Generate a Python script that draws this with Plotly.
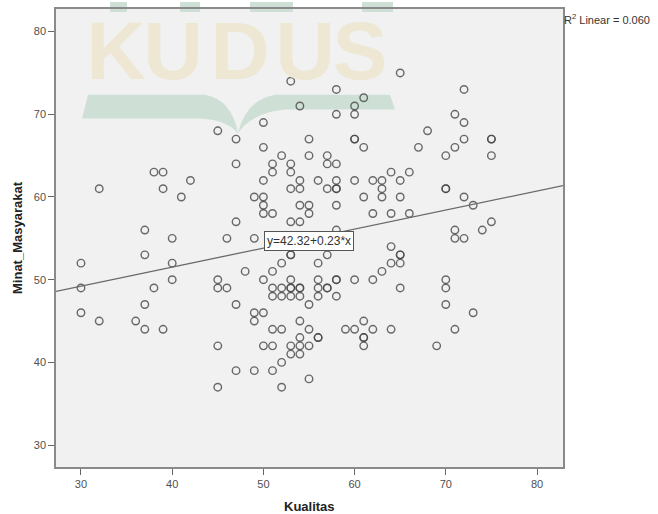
import plotly.graph_objects as go

# ---- data (Kualitas vs Minat_Masyarakat) ----
kualitas = (
    [30, 30, 30] + [32, 32] + [36] + [37, 37, 37, 37] + [38, 38] + [39, 39, 39] +
    [40, 40, 40] + [41] + [42] + [45, 45, 45, 45, 45] + [46, 46] +
    [47, 47, 47, 47, 47] + [48] + [49, 49, 49, 49, 49] +
    [50] * 9 + [51] * 9 + [52] * 7 + [53] * 14 + [54] * 12 + [55] * 8 +
    [56] * 7 + [57] * 6 + [58] * 11 + [59] + [60] * 7 + [61] * 7 + [62] * 4 +
    [63] * 4 + [64] * 5 + [65] * 7 + [66] * 2 + [67] + [68] + [69] +
    [70] * 6 + [71] * 5 + [72] * 5 + [73] * 2 + [74] + [75] * 4
)
minat = (
    [52, 49, 46] + [61, 45] + [45] + [56, 53, 47, 44] + [63, 49] + [63, 61, 44] +
    [55, 52, 50] + [60] + [62] + [68, 50, 49, 42, 37] + [55, 49] +
    [67, 64, 57, 47, 39] + [51] + [60, 55, 46, 45, 39] +
    [69, 66, 62, 60, 59, 58, 50, 46, 42] +
    [64, 63, 58, 51, 49, 48, 44, 42, 39] +
    [65, 52, 49, 48, 44, 40, 37] +
    [74, 64, 63, 61, 57, 54, 53, 53, 50, 49, 49, 48, 42, 41] +
    [71, 62, 61, 59, 57, 49, 49, 48, 45, 43, 42, 41] +
    [67, 65, 59, 58, 47, 44, 42, 38] +
    [62, 52, 50, 49, 48, 43, 43] +
    [65, 64, 61, 53, 49, 49] +
    [73, 70, 64, 62, 61, 61, 59, 56, 50, 50, 48] +
    [44] +
    [71, 70, 67, 67, 62, 50, 44] +
    [72, 66, 60, 45, 43, 43, 42] +
    [62, 58, 50, 44] +
    [62, 61, 60, 51] +
    [63, 58, 54, 52, 44] +
    [75, 62, 60, 53, 53, 52, 49] +
    [63, 58] + [66] + [68] + [42] +
    [65, 61, 61, 50, 49, 47] +
    [70, 66, 56, 55, 44] +
    [73, 69, 67, 60, 55] +
    [59, 46] + [56] + [67, 67, 65, 57]
)
intercept = 42.32
slope = 0.23
r2_linear = 0.060
x_ticks = [30, 40, 50, 60, 70, 80]
y_ticks = [30, 40, 50, 60, 70, 80]
x_range = [27.26, 82.85]
y_range = [27.35, 82.73]
x_title = "Kualitas"
y_title = "Minat_Masyarakat"
watermark_letters = ["K", "U", "D", "U", "S"]

FONT = "Liberation Sans, Arial, sans-serif"

# canvas geometry (pixels) for the watermark decoration
W, H = 658, 514
ML, MR, MT, MB = 56, 95, 7, 47
PW, PH = W - ML - MR, H - MT - MB


def px(x):
    return (x - ML) / PW


def py(y):
    return (H - MB - y) / PH


fig = go.Figure()

# watermark letters (drawn first so the markers sit on top)
letter_px = [116, 173, 240, 305, 360]
fig.add_trace(go.Scatter(
    x=[px(v) for v in letter_px], y=[py(57)] * len(letter_px),
    xaxis="x2", yaxis="y2", mode="text", text=watermark_letters,
    textfont=dict(family=FONT, size=82, color="rgb(237,231,211)", weight="bold"),
    hoverinfo="skip", showlegend=False, cliponaxis=False,
))

# scatter points
fig.add_trace(go.Scatter(
    x=kualitas, y=minat, mode="markers",
    marker=dict(symbol="circle-open", size=7.5,
                color="rgba(70,70,70,0.8)", line=dict(width=1.4)),
    showlegend=False, hoverinfo="x+y",
))

# fit line across the whole axis range
fig.add_trace(go.Scatter(
    x=x_range, y=[intercept + slope * v for v in x_range], mode="lines",
    line=dict(color="#6a6a6a", width=1.3), showlegend=False, hoverinfo="skip",
))

# book-shaped watermark band (below traces)
path = (f"M {px(82)},{py(117)} L {px(88)},{py(93)} L {px(205)},{py(93)} "
        f"Q {px(232)},{py(98)} {px(238)},{py(132)} "
        f"Q {px(246)},{py(98)} {px(275)},{py(93)} "
        f"L {px(390)},{py(93)} L {px(395)},{py(108)} L {px(285)},{py(108)} "
        f"Q {px(250)},{py(112)} {px(238)},{py(132)} "
        f"Q {px(226)},{py(117)} {px(195)},{py(117)} Z")
shapes = [dict(type="path", path=path, xref="paper", yref="paper",
               fillcolor="rgb(206,224,214)", line=dict(width=0), layer="below")]
# bottoms of cut-off logo letters above the frame
for x0, x1 in [(110, 127), (180, 200), (250, 293), (362, 393)]:
    shapes.append(dict(type="rect", xref="paper", yref="paper",
                       x0=px(x0), x1=px(x1), y0=py(10), y1=py(0),
                       fillcolor="rgb(206,224,214)", line=dict(width=0),
                       layer="below"))

annotations = [
    dict(x=55, y=intercept + slope * 55, xref="x", yref="y", yshift=-2,
         text=f"y={intercept:.2f}+{slope:.2f}*x", showarrow=False,
         font=dict(family=FONT, size=12, color="#333333"),
         bgcolor="white", bordercolor="#555555", borderwidth=1, borderpad=2),
    dict(x=1, y=py(17), xref="paper", yref="paper", xanchor="left",
         yanchor="middle", xshift=-1,
         text=f"R<sup>2</sup> Linear = {r2_linear:.3f}", showarrow=False,
         font=dict(family=FONT, size=11, color="#333333")),
    dict(x=0.5, y=py(507), xref="paper", yref="paper", xanchor="center",
         yanchor="middle", text=f"<b>{x_title}</b>", showarrow=False,
         font=dict(family=FONT, size=13, color="#222222")),
]

axis_common = dict(
    showgrid=False, zeroline=False, showline=True, mirror=True,
    linecolor="#8a8a8a", linewidth=1.5, ticks="outside", ticklen=6,
    tickcolor="#666666", tickwidth=1.2,
    tickfont=dict(family=FONT, size=11, color="#505050"),
)

fig.update_layout(
    width=W, height=H,
    margin=dict(l=ML, r=MR, t=MT, b=MB, pad=0),
    paper_bgcolor="white", plot_bgcolor="#f1f1f1",
    xaxis=dict(range=x_range, tickvals=x_ticks, **axis_common),
    yaxis=dict(range=y_range, tickvals=y_ticks, **axis_common,
               title=dict(text=f"<b>{y_title}</b>", standoff=8,
                          font=dict(family=FONT, size=13, color="#222222"))),
    xaxis2=dict(range=[0, 1], overlaying="x", visible=False),
    yaxis2=dict(range=[0, 1], overlaying="y", visible=False),
    shapes=shapes, annotations=annotations,
)

fig.write_html("out.html",
               config={"displayModeBar": False},
               post_script="document.body.style.margin='0';"
                           "document.body.style.overflow='hidden';")
